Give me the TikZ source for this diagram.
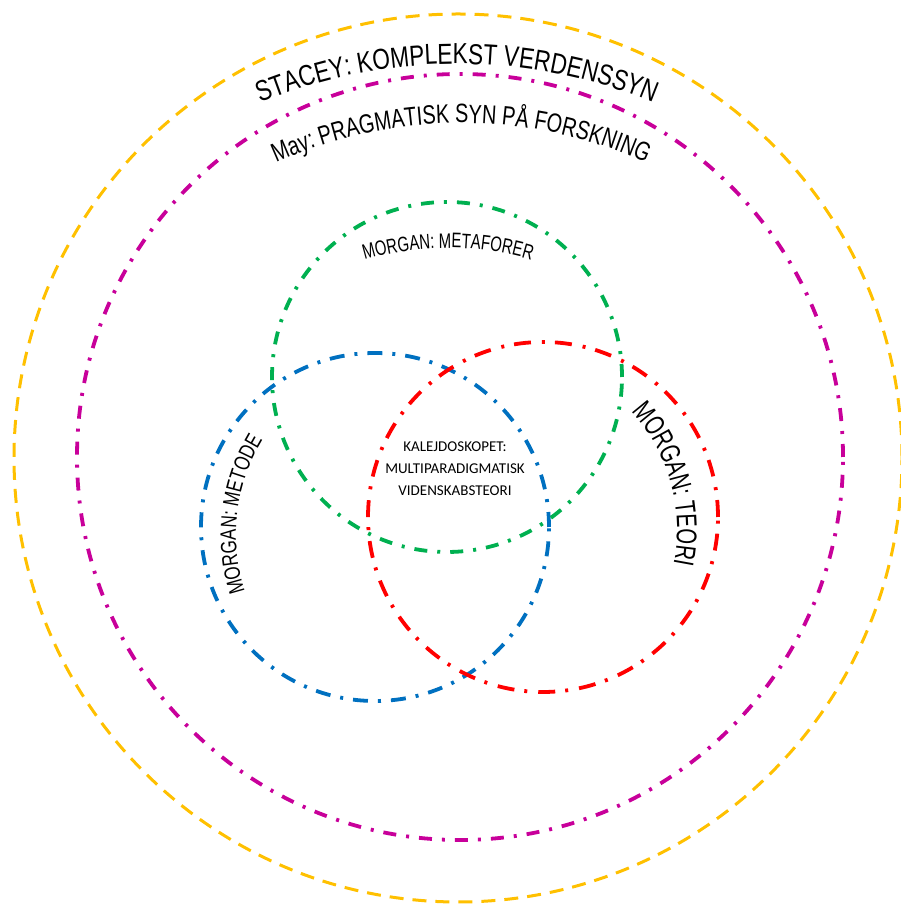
\documentclass[tikz,border=0pt]{standalone}
\usepackage{fontspec}
\usetikzlibrary{decorations.text}
\newfontfamily\fStacey[FakeStretch=0.78]{Liberation Sans}
\newfontfamily\fMay[FakeStretch=0.75]{Liberation Sans}
\newfontfamily\fMeta[FakeStretch=0.71]{Liberation Sans}
\newfontfamily\fMetode[FakeStretch=0.76]{Liberation Sans}
\newfontfamily\fTeori[FakeStretch=0.71]{Liberation Sans}
\newfontfamily\fCarl{Carlito}
\definecolor{cOrange}{HTML}{FFC000}
\definecolor{cMagenta}{HTML}{C8009A}
\definecolor{cGreen}{HTML}{00B050}
\definecolor{cBlue}{HTML}{0070C0}
\definecolor{cRed}{HTML}{FF0000}
\tikzset{
  ringdash/.style={draw=cOrange, line width=3pt, dash pattern=on 14pt off 9pt},
  ringdashdot/.style={line width=3.8pt, dash pattern=on 13pt off 10pt on 3pt off 10pt},
  reddashdot/.style={line width=3.8pt, dash pattern=on 17pt off 10pt on 3pt off 11pt},
  bluedashdot/.style={line width=3.8pt, dash pattern=on 15pt off 10pt on 3pt off 10pt},
  arctext/.style={decorate, decoration={text along path, text align=center, text={#1}}}
}
\begin{document}
\begin{tikzpicture}[x=1pt,y=1pt]
\useasboundingbox (0,0) rectangle (900,909);
% circles
\draw[ringdash] (458,451) circle[radius=444];
\draw[ringdashdot, draw=cMagenta] (460,452) circle[radius=383];
\draw[bluedashdot, draw=cBlue] (375,382) circle[radius=174];
\draw[reddashdot, draw=cRed] (543,392) circle[radius=175];
\draw[ringdashdot, draw=cGreen] (447,532) circle[radius=175];
% curved labels
\path[arctext={|\fStacey\fontsize{29}{30}\selectfont|STACEY: KOMPLEKST VERDENSSYN}]
  (457,327) ++(125:518) arc[start angle=125, end angle=55, radius=518];
\path[arctext={|\fMay\fontsize{26.5}{28}\selectfont|May: PRAGMATISK SYN PÅ FORSKNING}]
  (461,338) ++(125:448) arc[start angle=125, end angle=55, radius=448];
\path[arctext={|\fMeta\fontsize{21}{22}\selectfont|MORGAN: METAFORER}]
  (448,365) ++(120:296) arc[start angle=120, end angle=60, radius=296];
\path[arctext={|\fMetode\fontsize{22.3}{24}\selectfont|MORGAN: METODE}]
  (420,374) ++(218.4:184) arc[start angle=218.4, end angle=128.4, radius=184];
\path[arctext={|\fTeori\fontsize{28.5}{30}\selectfont|MORGAN: TEORI}]
  (500,379) ++(60.45:177) arc[start angle=60.45, end angle=-29.55, radius=177];
% center text
\node[inner sep=0pt, align=center, font=\fCarl\fontsize{15}{22}\selectfont] (kal) at (455,440.5)
  {KALEJDOSKOPET:\\MULTIPARADIGMATISK\\VIDENSKABSTEORI};
\end{tikzpicture}
\end{document}
